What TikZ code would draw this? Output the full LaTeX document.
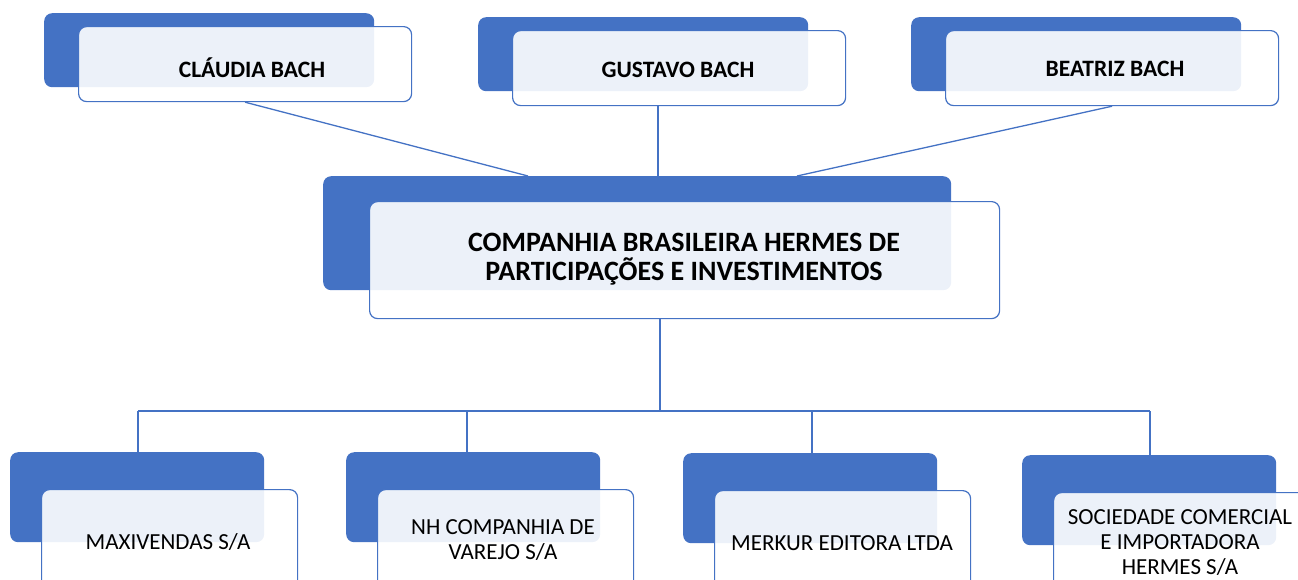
\documentclass[tikz,border=0pt]{standalone}
\usepackage{fontspec}
\setmainfont{Carlito}
\usetikzlibrary{positioning, calc}
\definecolor{hBlue}{HTML}{4472C4}

\tikzset{
  backbox/.style={fill=hBlue, rounded corners=8pt, inner sep=0pt, anchor=north west},
  frontbox/.style={draw=hBlue, line width=1.2pt, fill=white, fill opacity=0.9, draw opacity=1,
    rounded corners=8pt, inner sep=0pt, anchor=north west},
  conn/.style={draw=hBlue, line width=1.3pt},
  nametxt/.style={font=\bfseries\fontsize{23.5}{28}\selectfont, align=center, inner sep=0pt},
  boldtxt/.style={font=\bfseries\fontsize{28}{29}\selectfont, align=center, inner sep=0pt},
  plaintxt/.style={font=\fontsize{23}{25}\selectfont, align=center, inner sep=0pt}
}

\begin{document}
\begin{tikzpicture}[x=1pt, y=-1pt]
    \useasboundingbox (0,0) rectangle (1298,579);
    % socios
    \foreach \n/\x/\y in {claudia/44/13, gustavo/478/17, beatriz/911/17} {
      \node[backbox, minimum width=330pt, minimum height=74pt] (\n B) at (\x,\y) {};
      \node[frontbox, minimum width=333pt, minimum height=75pt] (\n F) at ($(\x,\y)+(34,13)$) {};
    }
    \node[nametxt] (claudiaT) at (252,68) {CLÁUDIA BACH};
    \node[nametxt] (gustavoT) at (678,70) {GUSTAVO BACH};
    \node[nametxt] (beatrizT) at (1115,69) {BEATRIZ BACH};
    % holding
    \node[backbox, minimum width=628pt, minimum height=114pt] (holdB) at (323,176) {};
    \node[frontbox, minimum width=630pt, minimum height=117pt] (holdF) at (369,201) {};
    \node[boldtxt] (holdT) at (684,259) {COMPANHIA BRASILEIRA HERMES DE\\PARTICIPAÇÕES E INVESTIMENTOS};
    % empresas
    \foreach \n/\x/\y in {maxi/10/452, nh/346/452, merkur/683/453, soc/1022/455} {
      \node[backbox, minimum width=254pt, minimum height=90pt] (\n B) at (\x,\y) {};
      \node[frontbox, minimum width=256pt, minimum height=100pt] (\n F) at ($(\x,\y)+(31,37)$) {};
    }
    \node[plaintxt] (maxiT) at (168,542) {MAXIVENDAS S/A};
    \node[plaintxt] (nhT) at (503,540) {NH COMPANHIA DE\\VAREJO S/A};
    \node[plaintxt] (merkurT) at (842,543) {MERKUR EDITORA LTDA};
    \node[plaintxt] (socT) at (1180,543) {SOCIEDADE COMERCIAL\\E IMPORTADORA\\HERMES S/A};
    % ligacoes
    \coordinate (inC) at (528,176);
    \coordinate (inG) at (658,176);
    \coordinate (inB) at (797,176);
    \draw[conn] (claudiaF.south) -- (inC);
    \draw[conn] (gustavoF.south -| inG) -- (inG);
    \draw[conn] (beatrizF.south) -- (inB);
    \coordinate (hub) at (660,318);
    \coordinate (bus) at (660,411);
    \draw[conn] (hub) -- (bus);
    \foreach \n/\x in {maxi/138, nh/467, merkur/812, soc/1150} {
      \coordinate (drop\n) at (\x,411);
      \draw[conn] (drop\n) -- (drop\n |- \n B.north);
    }
    \draw[conn] (dropmaxi) -- (dropsoc);
  \end{tikzpicture}
\end{document}
